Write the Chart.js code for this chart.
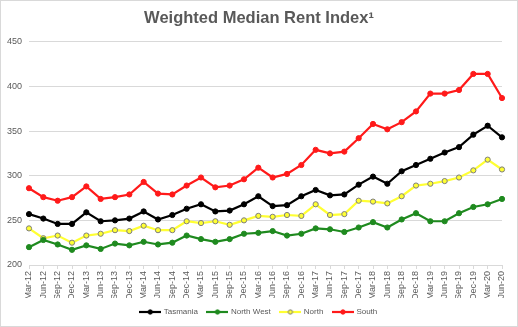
<!DOCTYPE html>
<html>
<head>
<meta charset="utf-8">
<script src="https://cdn.jsdelivr.net/npm/chart.js@4/dist/chart.umd.min.js"></script>
<style>
  html, body { margin: 0; padding: 0; background: #fff; }
  #wrap {
    width: 518px; height: 327px; box-sizing: border-box;
    border: 1px solid #d9d9d9; background: #fff;
  }
  canvas { display: block; }
</style>
</head>
<body>
<div id="wrap"><canvas id="chart" width="516" height="325"></canvas></div>
<script>
// Quarterly periods, Mar-12 through Jun-20
const quarters = [
  "Mar-12","Jun-12","Sep-12","Dec-12",
  "Mar-13","Jun-13","Sep-13","Dec-13",
  "Mar-14","Jun-14","Sep-14","Dec-14",
  "Mar-15","Jun-15","Sep-15","Dec-15",
  "Mar-16","Jun-16","Sep-16","Dec-16",
  "Mar-17","Jun-17","Sep-17","Dec-17",
  "Mar-18","Jun-18","Sep-18","Dec-18",
  "Mar-19","Jun-19","Sep-19","Dec-19",
  "Mar-20","Jun-20"
];

const tasmania = [
  257, 252, 246, 246, 259, 249, 250, 252, 260, 251, 256,
  263, 268, 260, 261, 268, 277, 266, 267, 277, 284, 278,
  279, 290, 299, 291, 305, 312, 319, 326, 332, 346, 356, 343
];

const northWest = [
  220, 228, 223, 217, 222, 218, 224, 222, 226, 223, 225,
  233, 229, 226, 229, 235, 236, 238, 233, 235, 241, 240,
  237, 242, 248, 242, 251, 258, 249, 249, 258, 265, 268, 274
];

const north = [
  241, 230, 233, 225, 233, 235, 239, 238, 244, 239, 239,
  249, 247, 249, 245, 250, 255, 254, 256, 255, 268, 256,
  257, 272, 271, 269, 277, 289, 291, 294, 298, 306, 318, 307
];

const south = [
  286, 276, 272, 276, 288, 274, 276, 279, 293, 280, 279,
  289, 298, 287, 289, 296, 309, 298, 302, 312, 329, 325,
  327, 342, 358, 352, 360, 372, 392, 392, 396, 414, 414, 387
];

const yTicks = [200, 250, 300, 350, 400, 450];

// Legend swatch: short line with a marker in the middle
function legendSwatch(lineColor, fill, border) {
  const c = document.createElement("canvas");
  c.width = 22;
  c.height = 8;
  const g = c.getContext("2d");
  g.strokeStyle = lineColor;
  g.lineWidth = 2.2;
  g.beginPath();
  g.moveTo(0, 4);
  g.lineTo(22, 4);
  g.stroke();
  g.beginPath();
  g.arc(11, 4, 2.2, 0, Math.PI * 2);
  g.fillStyle = fill;
  g.fill();
  g.lineWidth = 1;
  g.strokeStyle = border;
  g.stroke();
  return c;
}

const series = [
  { label: "Tasmania", data: tasmania, line: "#000000", fill: "#000000", border: "#000000" },
  { label: "North West", data: northWest, line: "#1f8a1f", fill: "#1f8a1f", border: "#1f8a1f" },
  { label: "North", data: north, line: "#ffff33", fill: "#ffff33", border: "#7f7f7f" },
  { label: "South", data: south, line: "#ff1a1a", fill: "#ff1a1a", border: "#ff1a1a" }
];

const FONT = "'Liberation Sans', Arial, sans-serif";
const TEXT = "#595959";

new Chart(document.getElementById("chart").getContext("2d"), {
  type: "line",
  data: {
    labels: quarters,
    datasets: series.map((s) => ({
      label: s.label,
      data: s.data,
      borderColor: s.line,
      backgroundColor: s.fill,
      pointBackgroundColor: s.fill,
      pointBorderColor: s.border,
      pointBorderWidth: 1,
      pointRadius: 2.6,
      borderWidth: 2.2,
      tension: 0,
      fill: false,
      swatch: legendSwatch(s.line, s.fill, s.border)
    }))
  },
  options: {
    responsive: false,
    animation: false,
    layout: { padding: { left: 0, right: 0, top: 0, bottom: 0 } },
    plugins: {
      title: {
        display: true,
        text: "Weighted Median Rent Index¹",
        color: TEXT,
        font: { family: FONT, size: 16.5, weight: "bold" },
        padding: { top: 8, bottom: 13 }
      },
      legend: {
        position: "bottom",
        labels: {
          usePointStyle: true,
          pointStyleWidth: 19,
          boxHeight: 8,
          padding: 10,
          color: TEXT,
          font: { family: FONT, size: 8 },
          generateLabels: (chart) =>
            chart.data.datasets.map((ds, i) => ({
              text: ds.label,
              pointStyle: ds.swatch,
              fillStyle: ds.backgroundColor,
              strokeStyle: ds.borderColor,
              lineWidth: 0,
              fontColor: TEXT,
              datasetIndex: i
            }))
        }
      },
      tooltip: { enabled: false }
    },
    scales: {
      x: {
        offset: false,
        grid: {
          display: true,
          drawOnChartArea: false,
          drawTicks: true,
          tickLength: 4,
          color: "#d9d9d9"
        },
        border: { color: "#d9d9d9" },
        ticks: {
          autoSkip: false,
          minRotation: 90,
          maxRotation: 90,
          padding: 2,
          color: TEXT,
          font: { family: FONT, size: 9 }
        },
        afterFit: (scale) => { scale.height = 33; }
      },
      y: {
        min: 200,
        max: 450,
        afterBuildTicks: (scale) => {
          scale.ticks = yTicks.map((v) => ({ value: v }));
        },
        grid: { color: "#d9d9d9", drawTicks: false },
        border: { display: false },
        ticks: {
          padding: 7,
          color: TEXT,
          font: { family: FONT, size: 9 }
        },
        afterFit: (scale) => { scale.width = 28; }
      },
      // empty right-hand margin so the plot ends short of the frame
      pad: {
        type: "linear",
        position: "right",
        display: true,
        grid: { display: false },
        border: { display: false },
        ticks: { display: false },
        afterFit: (scale) => { scale.width = 15; }
      }
    }
  }
});
</script>
</body>
</html>
